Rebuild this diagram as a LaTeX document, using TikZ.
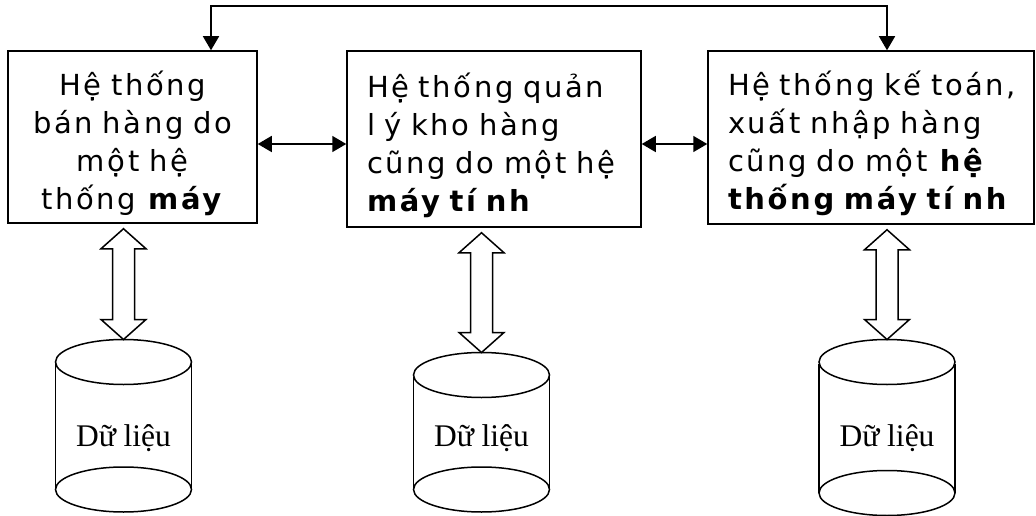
\documentclass[tikz,border=0pt]{standalone}
\usepackage{fontspec}
\usetikzlibrary{arrows.meta,calc}

\newfontfamily\boxfont[LetterSpace=9,WordSpace=0.75]{DejaVu Sans}
\newfontfamily\datafont{Liberation Serif}

% a data store: name, x, y of top ellipse, y of bottom ellipse
\newcommand{\datastore}[4]{%
  \coordinate (#1) at (#2,#3+22.5);
  \draw (#2,#3) ellipse [x radius=68, y radius=22.5];
  \draw (#2,#4) ellipse [x radius=68, y radius=22.5];
  \draw (#2-68,#3-2) -- (#2-68,#4);
  \draw (#2+68,#3-2) -- (#2+68,#4);
  \node[anchor=base,font=\datafont\fontsize{31.5}{36}\selectfont] (#1text) at (#2,69) {Dữ liệu};
}

% hollow two-headed arrow from #1 down to #2
\newcommand{\dataflow}[2]{%
  \draw[fill=white] (#1) -- ++(-22.5,-20) -- ++(11.5,0) -- ($(#2)+(-11,20)$)
    -- ++(-11.5,0) -- (#2) -- ++(22.5,20) -- ++(-11.5,0)
    -- ($(#1)+(11,-20)$) -- ++(11.5,0) -- cycle;
}
% taller first line, keeps the text a bit lower in its box
\newcommand{\firstline}{\rule{0pt}{37pt}}

\begin{document}
\begin{tikzpicture}[x=1pt,y=1pt,line width=1.5pt,
    system/.style={draw,inner ysep=0pt,font=\boxfont\fontsize{29}{38}\selectfont},
    link/.style={{Triangle[length=14pt,width=16pt]}-{Triangle[length=14pt,width=16pt]}}]
  \useasboundingbox (0,0) rectangle (1036,515);

  \node[system,minimum width=249pt,minimum height=172pt,text width=235pt,
        inner xsep=7pt,align=center] (b1) at (132.5,378)
    {\firstline Hệ thống\\bán hàng do\\một hệ\\thống \textbf{máy}};
  \node[system,minimum width=294pt,minimum height=176pt,text width=260pt,
        inner xsep=17pt,align=left] (b2) at (494,376)
    {\firstline\hspace*{3pt}Hệ thống quản\\\hspace*{3pt}l ý kho hàng\\\hspace*{3pt}cũng do một hệ\\\hspace*{3pt}\textbf{máy tí nh}};
  \node[system,minimum width=326pt,minimum height=173pt,text width=300pt,
        inner xsep=13pt,align=left] (b3) at (871,377.5)
    {\firstline\hspace*{7pt}Hệ thống kế toán,\\\hspace*{7pt}xuất nhập hàng\\\hspace*{7pt}cũng do một \textbf{hệ}\\\hspace*{7pt}\textbf{thống máy tí nh}};

  \datastore{db1}{123.5}{153}{25.5}
  \datastore{db2}{481.5}{140}{25.5}
  \datastore{db3}{887}{153}{22}

  \draw[link] ([yshift=-7pt]b1.east) -- ([yshift=-5pt]b2.west);
  \draw[link] ([yshift=-5pt]b2.east) -- ([yshift=-6.5pt]b3.west);
  \draw[link] ([xshift=78.5pt]b1.north) -- ++(0,44) -| (b3.north -| db3);

  \dataflow{$(b1.south -| db1)+(0,-5)$}{db1}
  \dataflow{$(b2.south -| db2)+(0,-5)$}{db2}
  \dataflow{$(b3.south -| db3)+(0,-5)$}{db3}
\end{tikzpicture}
\end{document}
